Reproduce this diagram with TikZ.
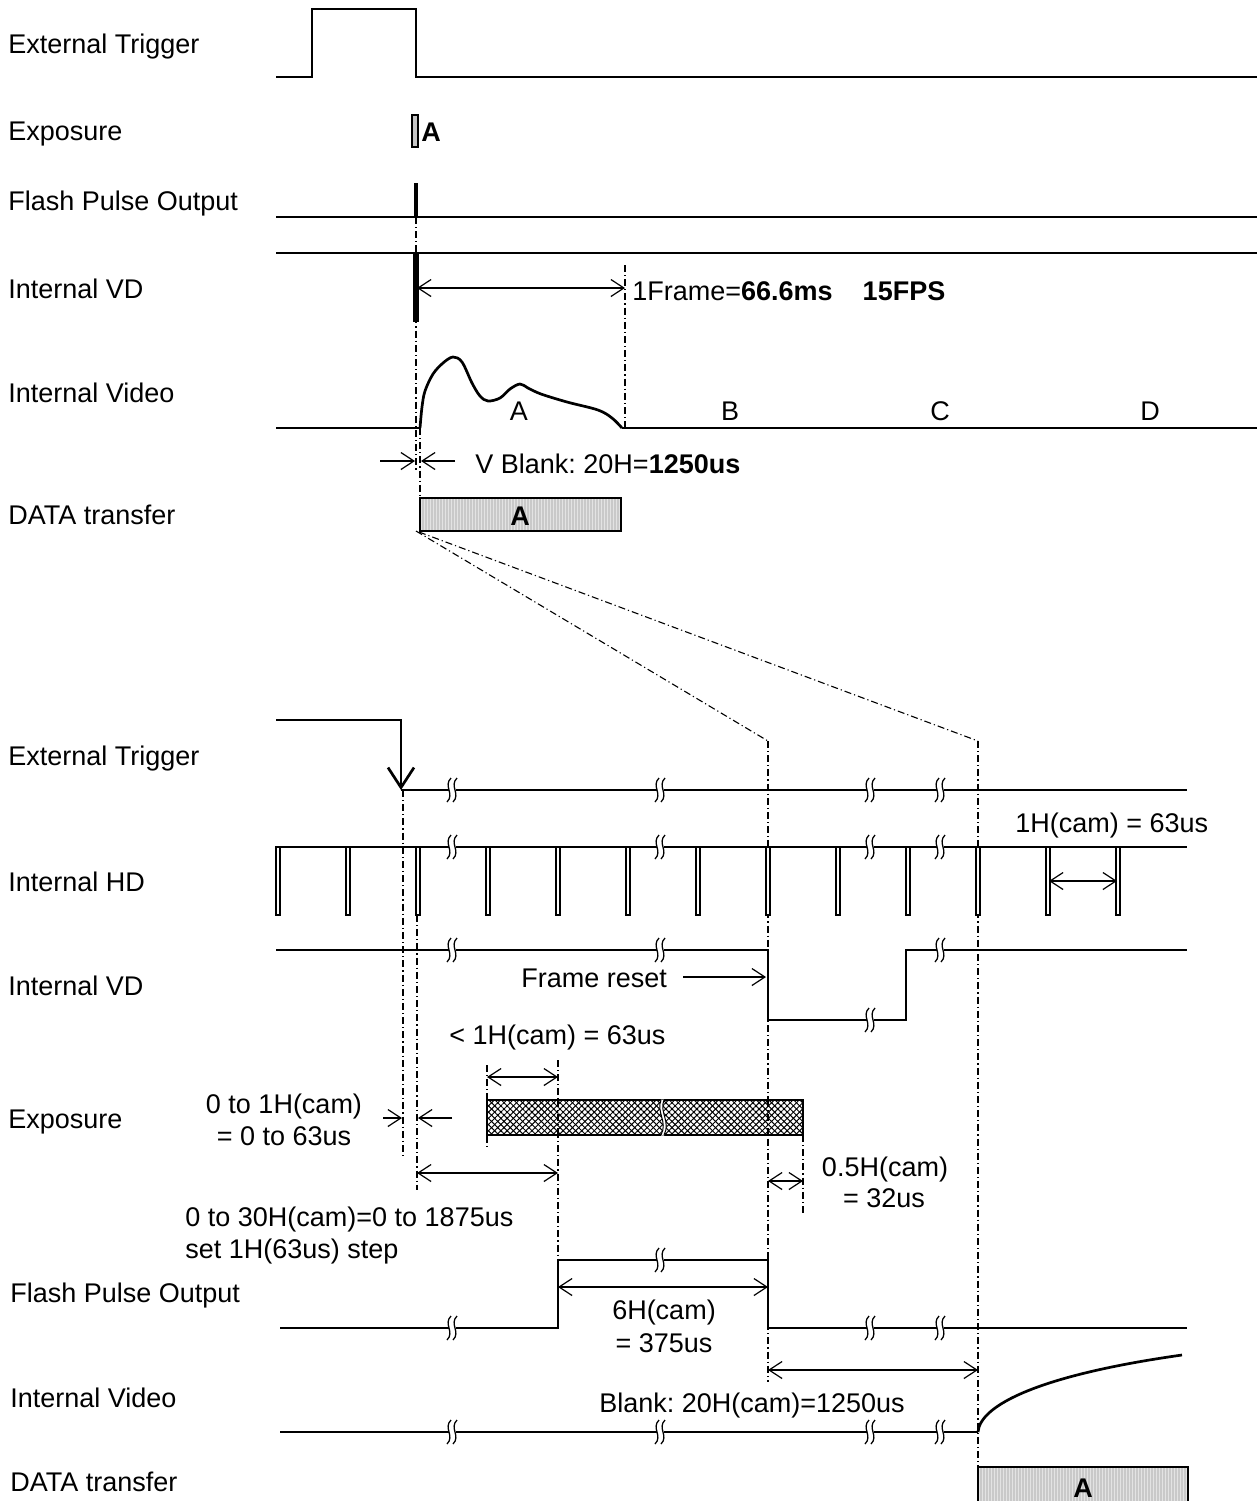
\documentclass[tikz,border=0pt]{standalone}
\usepackage{fontspec}
\setmainfont{Liberation Sans}
\frenchspacing
\usetikzlibrary{arrows.meta,patterns.meta}
\begin{document}
\frenchspacing
\begin{tikzpicture}[x=0.5pt,y=-0.5pt,
  sig/.style={line width=1.35pt, line join=miter},
  dd/.style={line width=0.55pt, dash pattern=on 3.5pt off 1.5pt on 0.6pt off 1.5pt},
  dim/.style={line width=0.6pt, {Straight Barb[length=6.5pt,width=8.5pt]}-{Straight Barb[length=6.5pt,width=8.5pt]}},
  ar/.style={line width=0.6pt, -{Straight Barb[length=6.5pt,width=8.5pt]}},
  lbl/.style={anchor=base west, inner sep=0pt, font=\fontsize{13.5}{16}\selectfont},
  txt/.style={anchor=base, inner sep=0pt, font=\fontsize{13.5}{16}\selectfont},
  brk/.pic={
    \fill[white] (-3.5,-3) rectangle (3.5,3);
    \draw[line width=0.65pt] (-1,-12) .. controls (-9,-4) and (3,4) .. (-5,12);
    \draw[line width=0.65pt] (5,-12) .. controls (-3,-4) and (9,4) .. (1,12);
  }
]
\useasboundingbox (0,0) rectangle (1257,1501);

% ---------------- labels ----------------
\node[lbl] (l1) at (8,53) {External Trigger};
\node[lbl] (l2) at (8,140) {Exposure};
\node[lbl] (l3) at (8,210) {Flash Pulse Output};
\node[lbl] (l4) at (8,298) {Internal VD};
\node[lbl] (l5) at (8,402) {Internal Video};
\node[lbl] (l6) at (8,524) {DATA transfer};
\node[lbl] (l7) at (8,765) {External Trigger};
\node[lbl] (l8) at (8,891) {Internal HD};
\node[lbl] (l9) at (8,995) {Internal VD};
\node[lbl] (l10) at (8,1128) {Exposure};
\node[lbl] (l11) at (10,1302) {Flash Pulse Output};
\node[lbl] (l12) at (10,1407) {Internal Video};
\node[lbl] (l13) at (10,1491) {DATA transfer};

% ---------------- top diagram ----------------
\draw[dd] (416,217) -- (416,470);
\draw[dd] (420,428) -- (420,498);
\draw[dd] (625,265) -- (625,428);
\draw[dd] (416,531) -- (768,741);
\draw[dd] (419,532) -- (978,741);

% external trigger
\draw[line width=1.2pt] (276,77) -- (312,77) -- (312,9) -- (416,9) -- (416,77) -- (1257,77);
% exposure
\draw[fill=gray!45, line width=0.55pt] (412,115) rectangle (418,147);
\node[txt, font=\fontsize{13.5}{16}\selectfont\bfseries] (ea) at (431,141) {A};
% flash pulse output
\draw[sig] (276,217) -- (1257,217);
\draw[line width=1.7pt] (416,183) -- (416,217);
% internal VD
\draw[sig] (276,253) -- (1257,253);
\draw[line width=2.6pt] (416,253) -- (416,322);
\coordinate (f1) at (417,288);
\coordinate (f2) at (625,288);
\draw[dim] (f1) -- (f2);
\node[lbl] (fr) at (632,300) {1Frame=\textbf{66.6ms}\hspace{15pt}\textbf{15FPS}};
% internal video
\draw[sig] (276,428) -- (420,428);
\draw[sig] plot[smooth, tension=0.55] coordinates {(420,428) (422,407) (425,391) (433,374) (443,363) (453,357) (462,362) (472,383) (480,396) (488,401) (500,398) (510,389) (520,384) (528,388) (541,394) (567,402) (598,410) (612,418) (622,428)};
\draw[sig] (622,428) -- (1257,428);
\node[txt] (va) at (519,420) {A};
\node[txt] (vb) at (730,420) {B};
\node[txt] (vc) at (940,420) {C};
\node[txt] (vd) at (1150,420) {D};
% V blank
\coordinate (vb1) at (380,461);
\coordinate (vb2) at (415,461);
\coordinate (vb3) at (455,461);
\coordinate (vb4) at (421,461);
\draw[ar] (vb1) -- (vb2);
\draw[ar] (vb3) -- (vb4);
\node[lbl] (vbt) at (475,473) {V Blank: 20H=\textbf{1250us}};
% data transfer
\begin{scope}
  \clip (420,498) rectangle (621,531);
  \fill[gray!42] (420,498) rectangle (621,531);
  \foreach \i in {0,...,67} \draw[gray!22, line width=0.45pt] (421+3*\i,498) -- (421+3*\i,531);
\end{scope}
\draw[line width=0.7pt] (420,498) rectangle (621,531);
\node[txt, font=\fontsize{13.5}{16}\selectfont\bfseries] (da) at (520,525) {A};

% ---------------- bottom diagram ----------------
\draw[dd] (403,790) -- (403,1158);
\draw[dd] (417,915) -- (417,1190);
\draw[dd] (487,1065) -- (487,1150);
\draw[dd] (558,1060) -- (558,1260);
\draw[dd] (768,741) -- (768,1382);
\draw[dd] (803,1135) -- (803,1215);
\draw[dd] (978,741) -- (978,1467);

% external trigger
\draw[line width=1.35pt, -{Straight Barb[length=10pt,width=13pt,line width=1.35pt]}] (276,720) -- (401,720) -- (401,790);
\draw[sig] (401,790) -- (1187,790);
\foreach \x in {452,660,870,940} \pic at (\x,790) {brk};

% internal HD
\draw[sig] (276,847) -- (1187,847);
\foreach \x in {278,348,...,1118} \draw[line width=1.15pt, fill=white] (\x-2,847) rectangle (\x+2,915);
\foreach \x in {452,660,870,940} \pic at (\x,847) {brk};
\node[lbl] (hd) at (1015,832) {1H(cam) = 63us};
\coordinate (h1) at (1049,881);
\coordinate (h2) at (1117,881);
\draw[dim] (h1) -- (h2);

% internal VD
\draw[sig] (276,950) -- (768,950) -- (768,1020) -- (906,1020) -- (906,950) -- (1187,950);
\foreach \x in {452,660,940} \pic at (\x,950) {brk};
\pic at (870,1020) {brk};
\node[lbl] (frs) at (521,987) {Frame reset};
\coordinate (r1) at (683,977);
\coordinate (r2) at (766,977);
\draw[ar] (r1) -- (r2);
\node[lbl] (lt) at (449,1044) {< 1H(cam) = 63us};

% exposure
\fill[white] (487,1100) rectangle (803,1135);
\fill[pattern={Lines[angle=45,distance=2.2pt,line width=0.5pt]}] (487,1100) rectangle (803,1135);
\fill[pattern={Lines[angle=-45,distance=2.2pt,line width=0.5pt]}] (487,1100) rectangle (803,1135);
\draw[line width=0.8pt] (487,1100) rectangle (803,1135);
\fill[white] (661,1099.5) .. controls (656,1112) and (668,1122) .. (661,1135.5) -- (664,1135.5) .. controls (671,1122) and (659,1112) .. (664,1099.5) -- cycle;
\draw[line width=0.5pt] (661,1100) .. controls (656,1112) and (668,1122) .. (661,1135);
\draw[line width=0.5pt] (664,1100) .. controls (659,1112) and (671,1122) .. (664,1135);
\draw[dd] (558,1100) -- (558,1135);
\draw[dd] (768,1100) -- (768,1135);
\coordinate (e1) at (487,1077);
\coordinate (e2) at (558,1077);
\draw[dim] (e1) -- (e2);
\node[txt] (z1) at (284,1113) {0 to 1H(cam)};
\node[txt] (z2) at (284,1145) {= 0 to 63us};
\coordinate (a1) at (383,1118);
\coordinate (a2) at (402,1118);
\coordinate (a3) at (452,1118);
\coordinate (a4) at (418,1118);
\draw[ar] (a1) -- (a2);
\draw[ar] (a3) -- (a4);
\coordinate (s1) at (417,1173);
\coordinate (s2) at (558,1173);
\draw[dim] (s1) -- (s2);
\node[lbl] (t30) at (185,1226) {0 to 30H(cam)=0 to 1875us};
\node[lbl] (tst) at (185,1258) {set 1H(63us) step};
\coordinate (p1) at (768,1181);
\coordinate (p2) at (803,1181);
\draw[dim] (p1) -- (p2);
\node[txt] (h05) at (885,1176) {0.5H(cam)};
\node[txt] (h32) at (884,1207) {= 32us};

% flash pulse output
\draw[sig] (280,1328) -- (558,1328) -- (558,1260) -- (768,1260) -- (768,1328) -- (1187,1328);
\foreach \x in {452,870,940} \pic at (\x,1328) {brk};
\pic at (660,1260) {brk};
\coordinate (g1) at (558,1287);
\coordinate (g2) at (768,1287);
\draw[dim] (g1) -- (g2);
\node[txt] (h6) at (664,1319) {6H(cam)};
\node[txt] (h375) at (664,1352) {= 375us};
\coordinate (b1) at (768,1370);
\coordinate (b2) at (978,1370);
\draw[dim] (b1) -- (b2);
\node[txt] (blk) at (752,1412) {Blank: 20H(cam)=1250us};

% internal video
\draw[sig] (280,1432) -- (978,1432);
\draw[sig] (978,1432) .. controls (980,1405) and (1040,1375) .. (1182,1355);
\foreach \x in {452,660,870,940} \pic at (\x,1432) {brk};

% data transfer
\begin{scope}
  \clip (978,1467) rectangle (1188,1503);
  \fill[gray!42] (978,1467) rectangle (1188,1503);
  \foreach \i in {0,...,70} \draw[gray!22, line width=0.45pt] (979+3*\i,1467) -- (979+3*\i,1503);
\end{scope}
\draw[line width=0.7pt] (978,1503) -- (978,1467) -- (1188,1467) -- (1188,1503);
\node[txt, font=\fontsize{13.5}{16}\selectfont\bfseries] (db) at (1083,1497) {A};
\end{tikzpicture}
\end{document}
